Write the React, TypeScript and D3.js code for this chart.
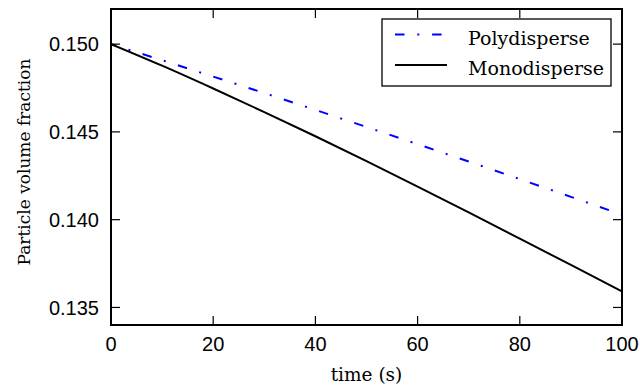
import React from "react";
import * as d3 from "d3";

// Sample times (s) and particle volume fraction for each suspension
const times = [0, 10, 20, 30, 40, 50, 60, 70, 80, 90, 100];
const polydisperse = [0.15, 0.14908, 0.14815, 0.14721, 0.14625, 0.14528, 0.1443, 0.14331, 0.14231, 0.1413, 0.14028];
const monodisperse = [0.15, 0.14877, 0.14747, 0.14613, 0.14475, 0.14333, 0.14188, 0.14041, 0.13892, 0.13742, 0.13591];

const xTicks = [0, 20, 40, 60, 80, 100];
const yTicks = [0.135, 0.14, 0.145, 0.15];

const W = 640;
const H = 385;
const left = 111;
const right = 622;
const top = 9;
const bottom = 325;

const serif = "'DejaVu Serif', serif";
const sans = "'Liberation Sans', Arial, sans-serif";

export default function App() {
  const x = d3.scaleLinear().domain([0, 100]).range([left, right]);
  const y = d3.scaleLinear().domain([0.134, 0.152]).range([bottom, top]);

  const line = d3
    .line<number>()
    .x((_, i) => x(times[i]))
    .y((d) => y(d))
    .curve(d3.curveMonotoneX);

  const tickLen = 9;
  const dash = "9.5 12.8 2 12.8";

  return (
    <svg
      width={W}
      height={H}
      style={{ position: "absolute", left: 0, top: 0, background: "#fff" }}
    >
      <defs>
        <clipPath id="plotArea">
          <rect x={left} y={top} width={right - left} height={bottom - top} />
        </clipPath>
      </defs>

      <g clipPath="url(#plotArea)">
        <path
          d={line(polydisperse) ?? ""}
          fill="none"
          stroke="#0000ff"
          strokeWidth={2}
          strokeDasharray={dash}
          strokeDashoffset={4}
        />
        <path d={line(monodisperse) ?? ""} fill="none" stroke="#000" strokeWidth={2} />
      </g>

      {/* ticks on all four sides, pointing inward */}
      {xTicks.map((t) => (
        <g key={"xt" + t}>
          <line x1={x(t)} x2={x(t)} y1={bottom} y2={bottom - tickLen} stroke="#000" strokeWidth={1.2} />
          <line x1={x(t)} x2={x(t)} y1={top} y2={top + tickLen} stroke="#000" strokeWidth={1.2} />
          <text
            x={x(t)}
            y={bottom + 25.5}
            textAnchor="middle"
            fontFamily={sans}
            fontSize={20}
            fill="#000"
          >
            {t}
          </text>
        </g>
      ))}
      {yTicks.map((t) => (
        <g key={"yt" + t}>
          <line x1={left} x2={left + tickLen} y1={y(t)} y2={y(t)} stroke="#000" strokeWidth={1.2} />
          <line x1={right} x2={right - tickLen} y1={y(t)} y2={y(t)} stroke="#000" strokeWidth={1.2} />
          <text
            x={left - 12}
            y={y(t)}
            dy="0.36em"
            textAnchor="end"
            fontFamily={sans}
            fontSize={20}
            fill="#000"
          >
            {d3.format(".3f")(t)}
          </text>
        </g>
      ))}

      <rect
        x={left}
        y={top}
        width={right - left}
        height={bottom - top}
        fill="none"
        stroke="#000"
        strokeWidth={2}
      />

      <text
        x={(left + right) / 2}
        y={381}
        textAnchor="middle"
        fontFamily={serif}
        fontSize={18.5}
        fill="#000"
      >
        time (s)
      </text>
      <text
        transform={`translate(30, 162) rotate(-90)`}
        textAnchor="middle"
        fontFamily={serif}
        fontSize={17}
        fill="#000"
      >
        Particle volume fraction
      </text>

      {/* legend */}
      <g>
        <rect x={382} y={19} width={229} height={67} fill="#fff" stroke="#000" strokeWidth={1.3} />
        <line x1={395} x2={447} y1={34.5} y2={34.5} stroke="#0000ff" strokeWidth={2} strokeDasharray={dash} />
        <text x={468} y={45} fontFamily={serif} fontSize={19} fill="#000">
          Polydisperse
        </text>
        <line x1={395} x2={447} y1={65} y2={65} stroke="#000" strokeWidth={2} />
        <text x={468} y={75} fontFamily={serif} fontSize={19} fill="#000">
          Monodisperse
        </text>
      </g>
    </svg>
  );
}
